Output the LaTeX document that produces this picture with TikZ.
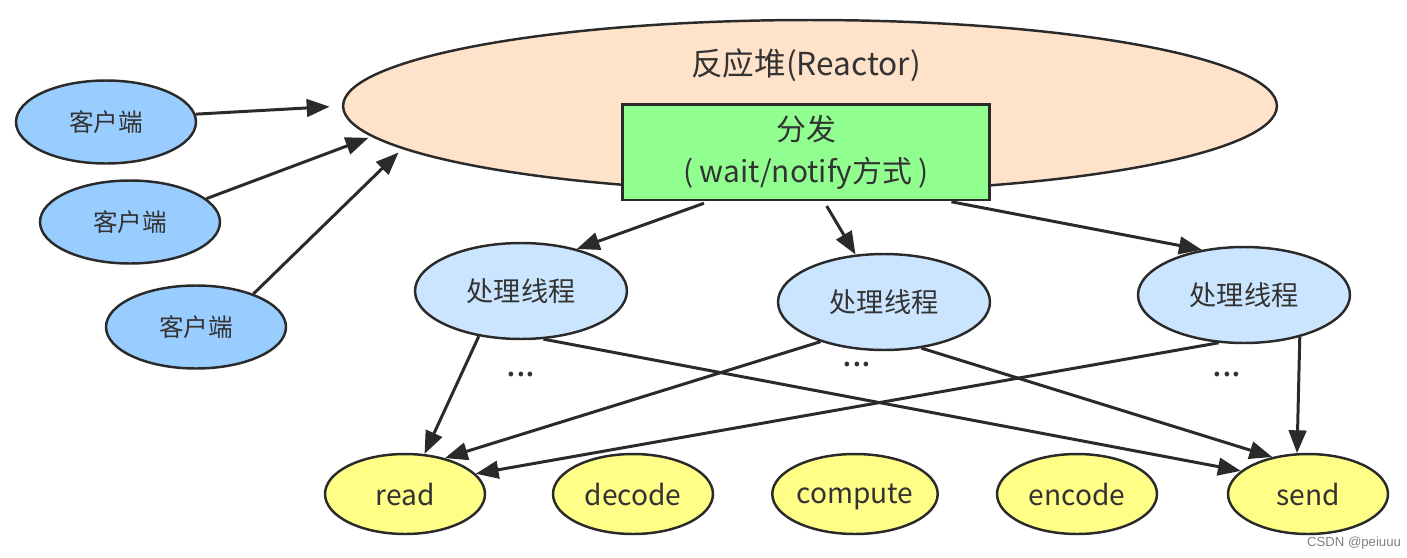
\documentclass[tikz,border=0pt]{standalone}
\usepackage{fontspec}
\setmainfont{Noto Sans CJK SC}
\newfontfamily\wmfont{Liberation Sans}
\usetikzlibrary{arrows.meta,shapes.geometric}
\definecolor{edge}{HTML}{2A2A2A}
\definecolor{txt}{HTML}{333333}
\definecolor{peach}{HTML}{FFE2CA}
\definecolor{clientblue}{HTML}{99CCFF}
\definecolor{threadblue}{HTML}{CCE5FF}
\definecolor{opyellow}{HTML}{FFFF88}
\definecolor{boxgreen}{HTML}{90FF90}

\begin{document}
\begin{tikzpicture}[x=0.02cm,y=-0.02cm,->,>={Triangle[length=13pt,width=10pt]},
  line width=1.7pt,edge,
  base node/.style={ellipse,draw=edge,line width=1.4pt,inner sep=0pt,text=txt},
  client node/.style={base node,fill=clientblue,minimum width=3.6cm,minimum height=1.66cm,font=\fontsize{14}{16}\selectfont},
  thread node/.style={base node,fill=threadblue,minimum width=4.24cm,minimum height=1.92cm,font=\fontsize{15.5}{18}\selectfont},
  op node/.style={base node,fill=opyellow,minimum width=3.2cm,minimum height=1.6cm,text depth=0pt,font=\fontsize{16}{19}\selectfont},
  dots node/.style={text=txt,font=\fontsize{20}{22}\selectfont}]
  \useasboundingbox (0,0) rectangle (1407,558);

  \node[base node,fill=peach,minimum width=18.68cm,minimum height=3.44cm] (R) at (810,106) {};
  \node[text=txt,font=\fontsize{18}{21}\selectfont] (Rt) at (806,65) {反应堆(Reactor)};
  \node[rectangle,draw=edge,line width=1.7pt,fill=boxgreen,minimum width=7.34cm,minimum height=1.92cm,
    align=center,text=txt,font=\fontsize{17}{24}\selectfont] (D) at (806,152) {分发\\( wait/notify方式 )};

  \node[client node] (C1) at (106,122) {客户端};
  \node[client node] (C2) at (130,222) {客户端};
  \node[client node] (C3) at (196,327) {客户端};

  \node[thread node] (T1) at (521,291) {处理线程};
  \node[thread node] (T2) at (884,302) {处理线程};
  \node[thread node] (T3) at (1244,295) {处理线程};

  \node[op node] (read) at (405,494) {read};
  \node[op node] (decode) at (633,494) {decode};
  \node[op node] (compute) at (855,494) {compute};
  \node[op node] (encode) at (1077,494) {encode};
  \node[op node] (send) at (1308,494) {send};

  \node[dots node] (dots1) at (521,375) {...};
  \node[dots node] (dots2) at (857,365) {...};
  \node[dots node] (dots3) at (1227,375) {...};

  \node[text=gray,font=\wmfont\fontsize{7.5}{9}\selectfont] (wm) at (1354,543) {CSDN @peiuuu};

  \draw[shorten >=7pt] (C1.5) -- (R.180);
  \draw[shorten >=2pt] (C2.17) -- (R.184);
  \draw[shorten >=3pt] (C3.30) -- (R.186.5);

  \draw[shorten <=3pt] (D.207) -- (T1.37);
  \draw[shorten <=3pt] (D.290.6) -- (T2.121.7);
  \draw[shorten <=1pt] (D.341.8) -- (T3.133.7);

  \draw (T1.227) -- (read.64);
  \draw (T1.295) -- (send.161);
  \draw (T2.212) -- (read.42);
  \draw (T2.309) -- (send.134);
  \draw (T3.242) -- (read.16);
  \draw (T3.323) -- (send.105);
\end{tikzpicture}
\end{document}
